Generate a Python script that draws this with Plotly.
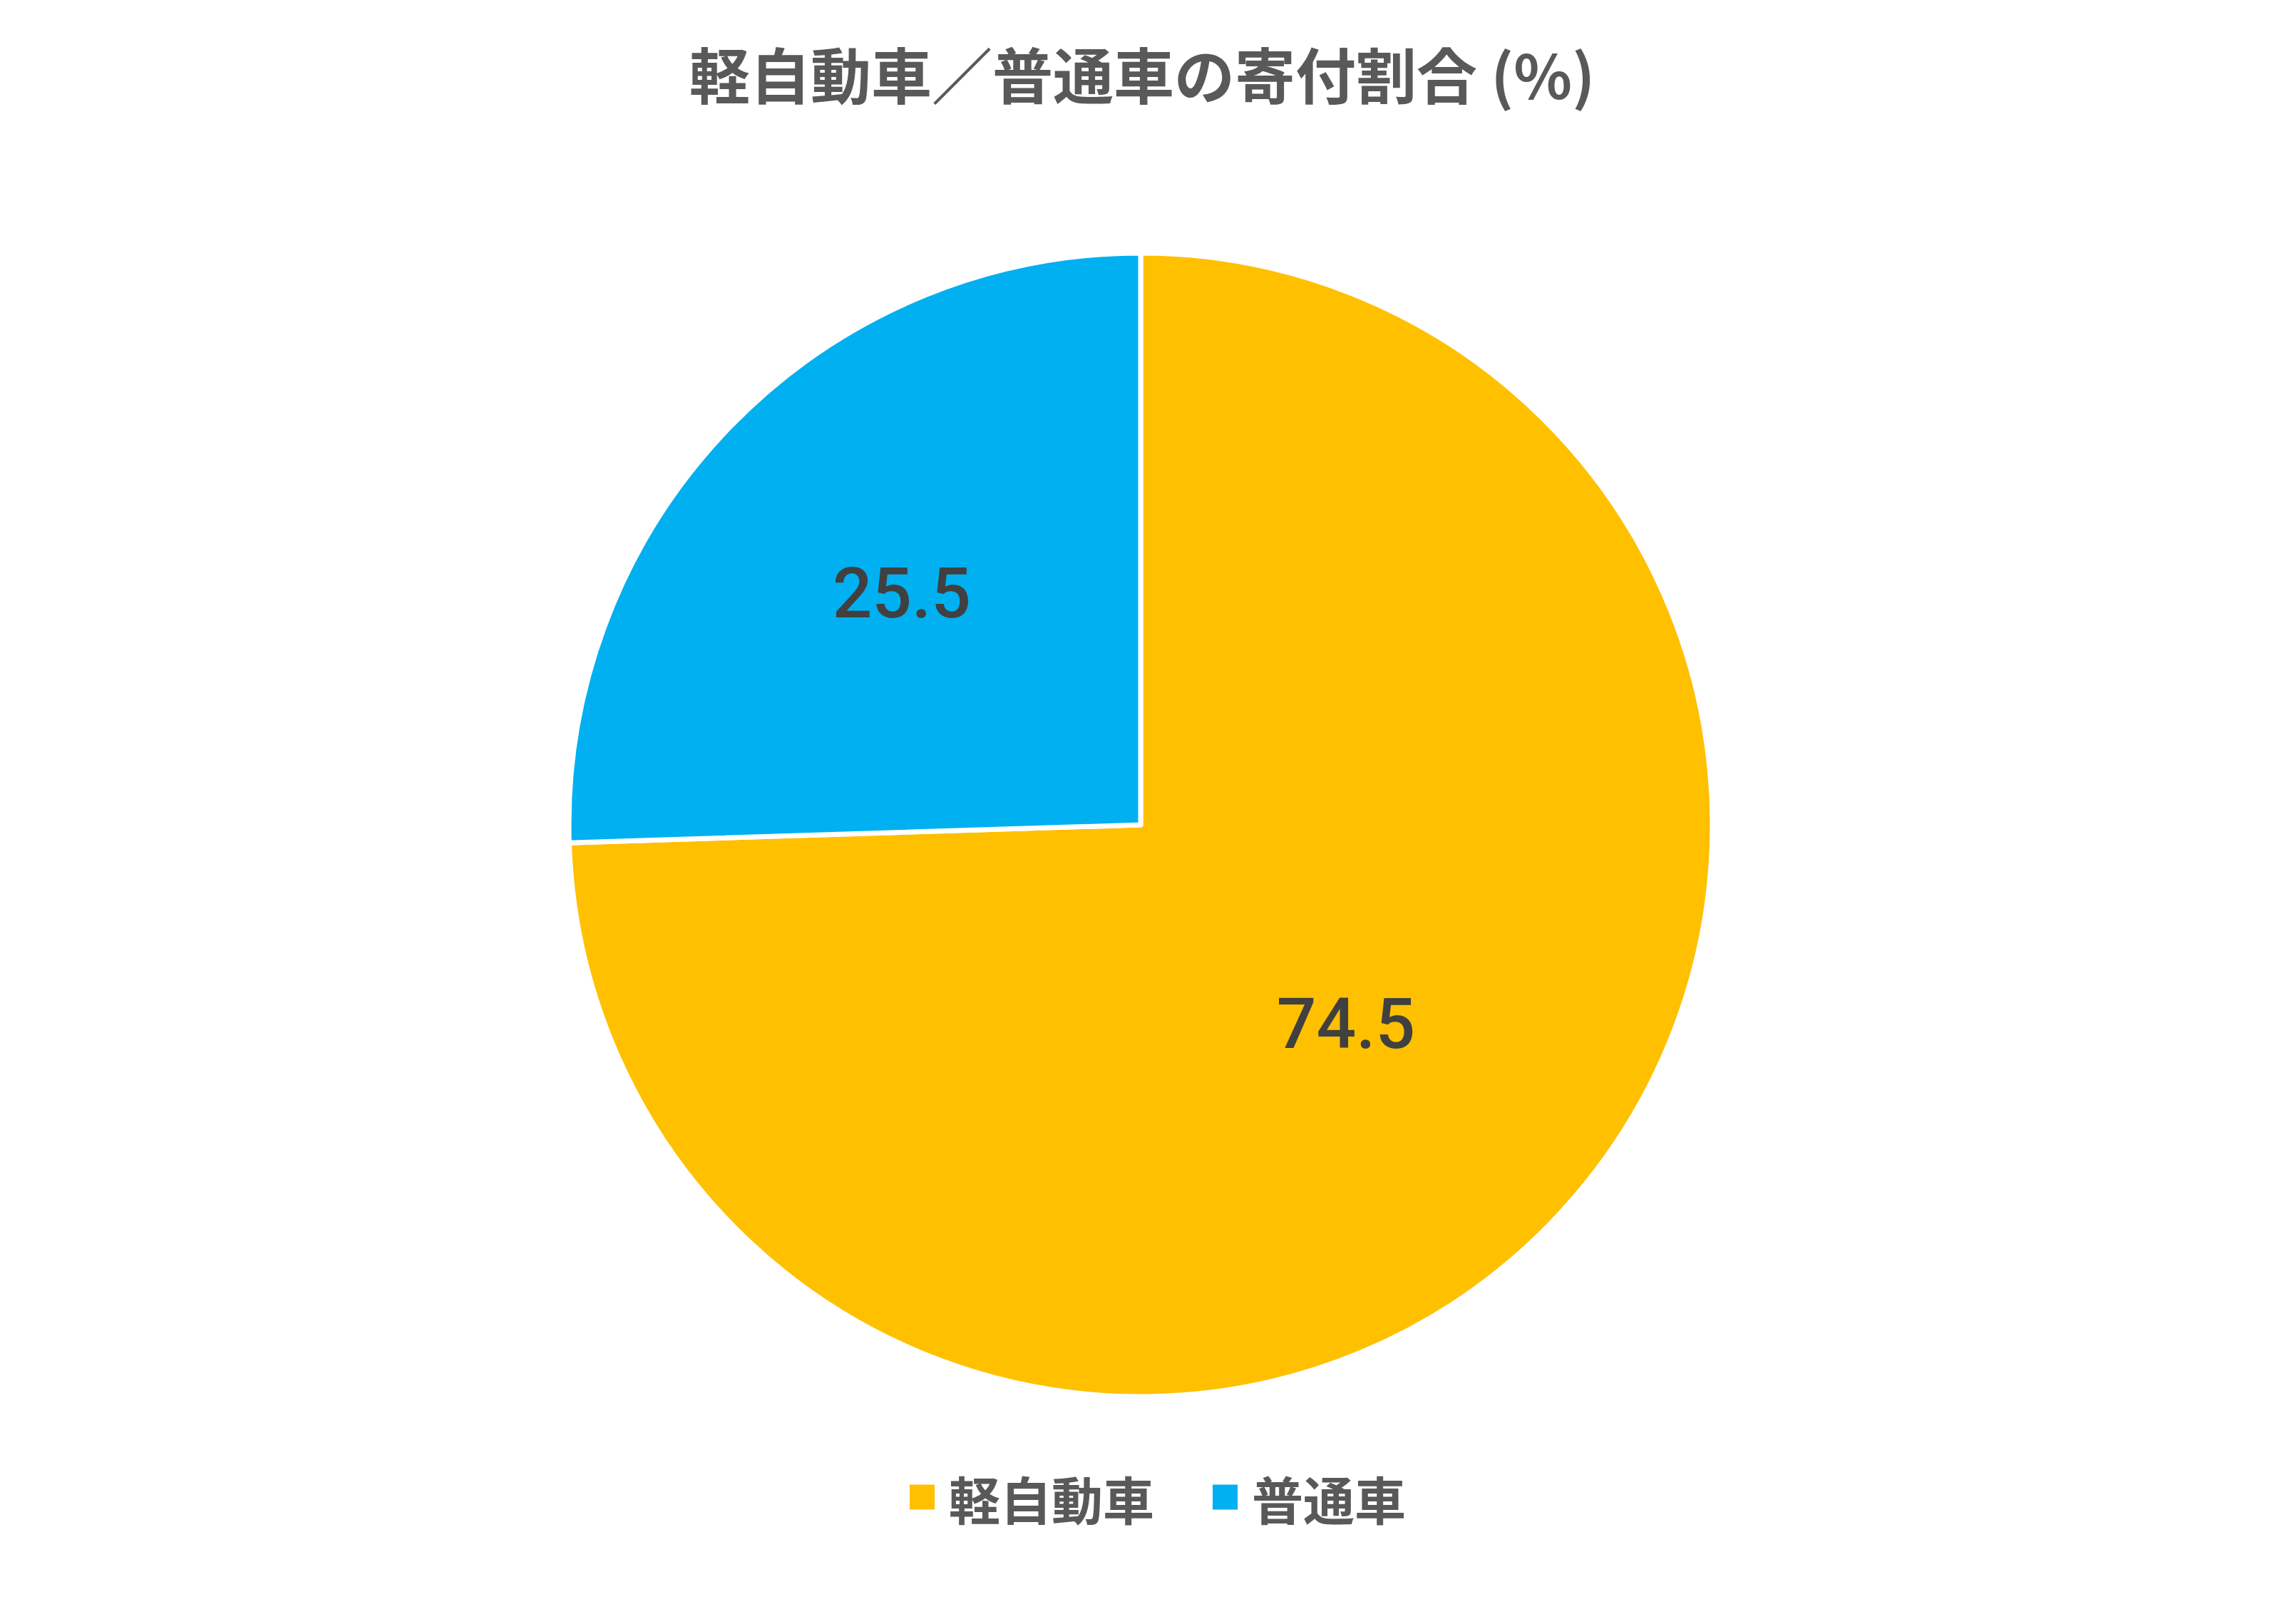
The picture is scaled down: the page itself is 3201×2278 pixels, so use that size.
import plotly.graph_objects as go

# Data
categories = ["軽自動車", "普通車"]
values = [74.5, 25.5]
colors = ["#FFC000", "#00B0F0"]
title_text = "軽自動車／普通車の寄付割合 (%)"

W, H = 3201, 2278
cx, cy, r = 1592, 1149, 802

fig = go.Figure()
fig.add_trace(go.Pie(
    labels=categories,
    values=values,
    sort=False,
    direction="clockwise",
    rotation=0,
    marker=dict(colors=colors, line=dict(color="white", width=7)),
    textinfo="value",
    textposition="inside",
    insidetextorientation="horizontal",
    textfont=dict(family="Roboto", size=98, color="#404040", weight=500),
    showlegend=False,
    domain=dict(x=[(cx - r) / W, (cx + r) / W], y=[(H - cy - r) / H, (H - cy + r) / H]),
))

# custom legend (large square swatches)
leg_y = 2092
sq = 35
sq_x = [1268, 1693]
for i, (lab, col) in enumerate(zip(categories, colors)):
    x0 = sq_x[i]
    fig.add_shape(type="rect", xref="paper", yref="paper",
                  x0=x0 / W, x1=(x0 + sq) / W,
                  y0=1 - (leg_y + sq / 2) / H, y1=1 - (leg_y - sq / 2) / H,
                  fillcolor=col, line=dict(width=0))
    fig.add_annotation(x=(x0 + sq + 18) / W, y=1 - leg_y / H, xref="paper", yref="paper",
                       xanchor="left", yanchor="middle", showarrow=False, text=lab,
                       font=dict(family="Noto Sans CJK JP", size=72, color="#595959", weight="bold"))

fig.update_layout(
    width=W, height=H,
    margin=dict(l=0, r=0, t=0, b=0),
    paper_bgcolor="white",
    plot_bgcolor="white",
    title=dict(text=title_text, x=0.498, xanchor="center", y=1 - 101 / H, yanchor="middle",
               font=dict(family="Noto Sans CJK JP", size=85, color="#595959", weight="bold")),
)

fig.write_html("out.html")
